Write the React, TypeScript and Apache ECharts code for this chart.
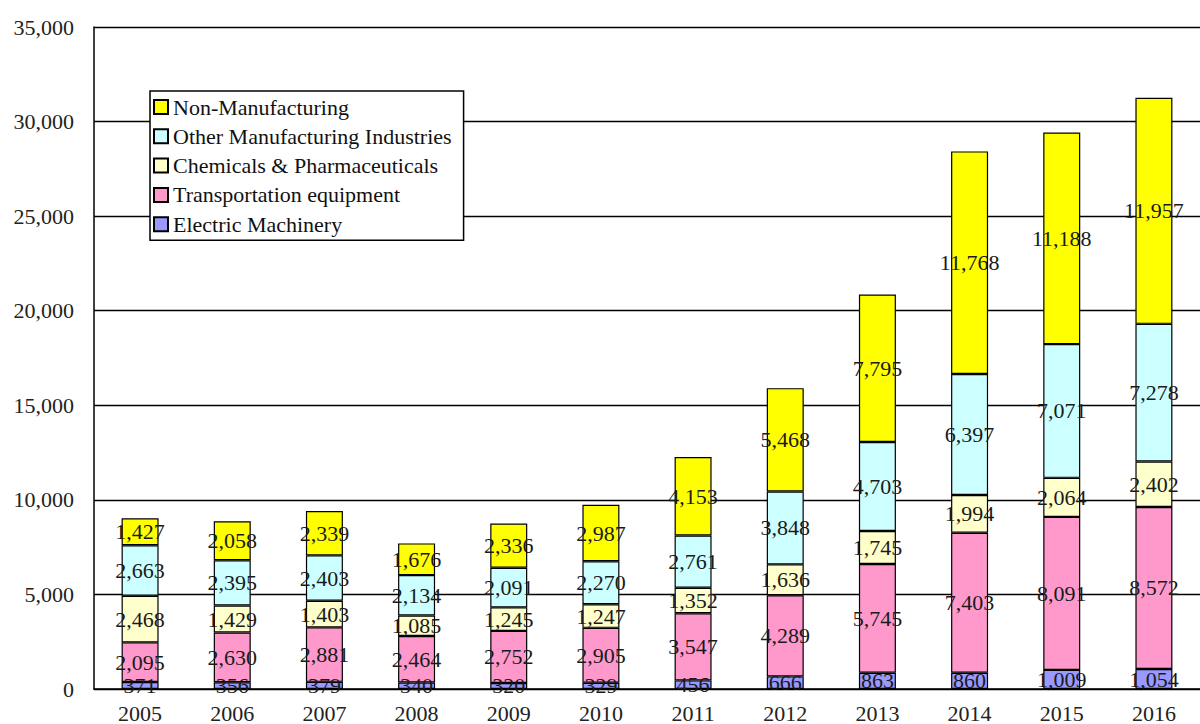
import React, { useEffect, useRef } from "react";
import * as echarts from "echarts";

const years = ["2005", "2006", "2007", "2008", "2009", "2010", "2011", "2012", "2013", "2014", "2015", "2016"];

const electricMachinery = [371, 356, 379, 340, 320, 329, 456, 666, 863, 860, 1009, 1054];
const transportation = [2095, 2630, 2881, 2464, 2752, 2905, 3547, 4289, 5745, 7403, 8091, 8572];
const chemicals = [2468, 1429, 1403, 1085, 1245, 1247, 1352, 1636, 1745, 1994, 2064, 2402];
const otherManufacturing = [2663, 2395, 2403, 2134, 2091, 2270, 2761, 3848, 4703, 6397, 7071, 7278];
const nonManufacturing = [1427, 2058, 2339, 1676, 2336, 2987, 4153, 5468, 7795, 11768, 11188, 11957];

const seriesDefs = [
  { name: "Electric Machinery", data: electricMachinery, color: "#9999FF" },
  { name: "Transportation equipment", data: transportation, color: "#FF99CC" },
  { name: "Chemicals & Pharmaceuticals", data: chemicals, color: "#FFFFCC" },
  { name: "Other Manufacturing Industries", data: otherManufacturing, color: "#CCFFFF" },
  { name: "Non-Manufacturing", data: nonManufacturing, color: "#FFFF00" },
];

const legendOrder = [
  "Non-Manufacturing",
  "Other Manufacturing Industries",
  "Chemicals & Pharmaceuticals",
  "Transportation equipment",
  "Electric Machinery",
];

const FONT = "'Liberation Serif', 'Times New Roman', serif";
const fmt = (v: number) => v.toLocaleString("en-US");

export default function App() {
  const ref = useRef<HTMLDivElement>(null);

  useEffect(() => {
    if (!ref.current) return;
    const chart = echarts.init(ref.current, null, { renderer: "svg" });
    chart.setOption({
      animation: false,
      backgroundColor: "#ffffff",
      textStyle: { fontFamily: FONT },
      grid: { left: 94, top: 27, width: 1115, height: 663, containLabel: false },
      legend: {
        orient: "vertical",
        left: 150,
        top: 91,
        data: legendOrder,
        backgroundColor: "#ffffff",
        borderColor: "#000000",
        borderWidth: 1.5,
        borderRadius: 0,
        padding: [5, 12, 5, 3],
        itemWidth: 14,
        itemHeight: 14,
        itemGap: 7.3,
        icon: "rect",
        textStyle: { fontFamily: FONT, fontSize: 22, color: "#111111" },
      },
      xAxis: {
        type: "category",
        data: years,
        axisLine: { lineStyle: { color: "#000000", width: 1.5 } },
        axisTick: { inside: true, length: 5, lineStyle: { color: "#000000", width: 1.5 } },
        axisLabel: { fontFamily: FONT, fontSize: 22, color: "#222222", margin: 13 },
      },
      yAxis: {
        type: "value",
        min: 0,
        max: 35000,
        interval: 5000,
        axisLine: { show: true, lineStyle: { color: "#000000", width: 1.5 } },
        axisTick: { show: false },
        splitLine: { lineStyle: { color: "#000000", width: 1.3 } },
        axisLabel: {
          fontFamily: FONT,
          fontSize: 22,
          color: "#222222",
          margin: 20,
          formatter: (v: number) => fmt(v),
        },
      },
      series: seriesDefs.map((s) => ({
        name: s.name,
        type: "bar",
        stack: "total",
        barWidth: 37,
        data: s.data,
        itemStyle: { color: s.color, borderColor: "#000000", borderWidth: 1.2 },
        label: {
          show: true,
          position: "inside",
          fontFamily: FONT,
          fontSize: 22,
          color: "#1a1a1a",
          formatter: (p: any) => fmt(p.value),
        },
        labelLayout: { hideOverlap: false },
      })),
    });
    return () => chart.dispose();
  }, []);

  return (
    <div
      ref={ref}
      style={{ position: "absolute", left: 0, top: 0, width: 1200, height: 724 }}
    />
  );
}
